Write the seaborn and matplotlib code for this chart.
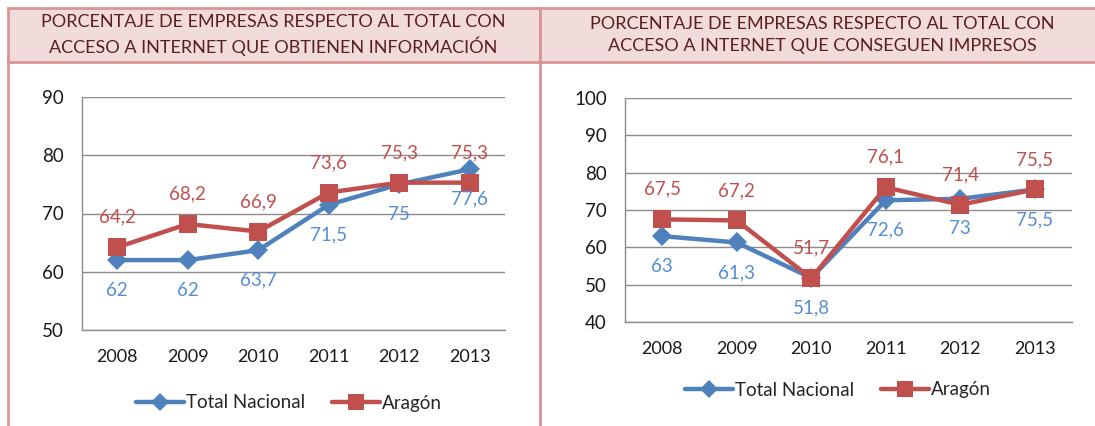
import matplotlib
matplotlib.use("Agg")
import matplotlib.pyplot as plt
import seaborn as sns
import pandas as pd
from matplotlib.patches import Rectangle
from matplotlib.lines import Line2D

years = ["2008", "2009", "2010", "2011", "2012", "2013"]
series_names = ["Total Nacional", "Aragón"]

info_total = [62, 62, 63.7, 71.5, 75, 77.6]
info_aragon = [64.2, 68.2, 66.9, 73.6, 75.3, 75.3]

impr_total = [63, 61.3, 51.8, 72.6, 73, 75.5]
impr_aragon = [67.5, 67.2, 51.7, 76.1, 71.4, 75.5]

title_left = "PORCENTAJE DE EMPRESAS RESPECTO AL TOTAL CON\nACCESO A INTERNET QUE OBTIENEN INFORMACIÓN"
title_right = "PORCENTAJE DE EMPRESAS RESPECTO AL TOTAL CON\nACCESO A INTERNET QUE CONSEGUEN IMPRESOS"

sns.set_theme(style="white")
plt.rcParams["font.family"] = ["Lato", "DejaVu Sans"]

W, H = 1095, 426
fig = plt.figure(figsize=(W / 100, H / 100), dpi=100)
fig.patch.set_facecolor("white")

BLUE = "#4F81BD"
RED = "#C0504D"
BLUE_TXT = "#558ED5"
RED_TXT = "#C0504D"
GRID = "#8C8C8C"
BORDER = "#D99694"
HEAD_FILL = "#F2DCDB"
HEAD_TXT = "#5A1F1E"


def fx(x):
    return x / W


def fy(y):
    return 1 - y / H


def rect_axes(x0, y0, x1, y1):
    return fig.add_axes([fx(x0), fy(y1), (x1 - x0) / W, (y1 - y0) / H])


def panel(x0, x1, text_cx, title):
    fig.patches.append(Rectangle((fx(x0), fy(62)), (x1 - x0) / W, (62 - 8) / H,
                                 transform=fig.transFigure, facecolor=HEAD_FILL,
                                 edgecolor=BORDER, linewidth=2, zorder=0))
    fig.lines.append(Line2D([fx(x0), fx(x0)], [fy(62), fy(430)], transform=fig.transFigure,
                            color=BORDER, linewidth=2))
    fig.text(fx(text_cx), fy(35), title, ha="center", va="center", color=HEAD_TXT,
             fontsize=13, linespacing=1.4)


panel(8, 540, 273, title_left)
panel(540, 1104, 822, title_right)


def draw(ax, total, aragon, ylim, yticks, legend_xy):
    df = pd.DataFrame({
        "year": years * 2,
        "value": total + aragon,
        "serie": [series_names[0]] * 6 + [series_names[1]] * 6,
    })
    sns.lineplot(data=df, x="year", y="value", hue="serie", style="serie",
                 palette={series_names[0]: BLUE, series_names[1]: RED},
                 markers={series_names[0]: "D", series_names[1]: "s"},
                 dashes=False, linewidth=3.2, markersize=11, markeredgewidth=0,
                 ax=ax, legend=False, sort=False)
    for ln in ax.lines:
        if ln.get_marker() == "s":
            ln.set_markersize(12.5)
        else:
            ln.set_markersize(10.5)
    ax.set_xlim(-0.5, 5.5)
    ax.set_ylim(*ylim)
    ax.set_yticks(yticks)
    ax.set_xticks(range(6))
    ax.set_xticklabels(years)
    ax.set_xticks([i - 0.5 for i in range(7)], minor=True)
    ax.tick_params(axis="x", which="major", length=0, pad=14, labelsize=13, labelcolor="#1a1a1a")
    ax.tick_params(axis="x", which="minor", length=6, color=GRID, width=1, direction="out")
    ax.tick_params(axis="y", length=6, color=GRID, width=1, direction="out", pad=7,
                   labelsize=13.5, labelcolor="#1a1a1a")
    ax.set_xlabel("")
    ax.set_ylabel("")
    ax.grid(axis="y", color=GRID, linewidth=1)
    ax.set_axisbelow(True)
    for s in ["top", "right"]:
        ax.spines[s].set_visible(False)
    for s in ["left", "bottom"]:
        ax.spines[s].set_color(GRID)
        ax.spines[s].set_linewidth(1)
    ax.set_facecolor("none")
    for i, v in enumerate(total):
        ax.annotate(f"{v:g}".replace(".", ","), (i, v), xytext=(0, -30),
                    textcoords="offset pixels", ha="center", va="center",
                    color=BLUE_TXT, fontsize=13.5)
    for i, v in enumerate(aragon):
        ax.annotate(f"{v:g}".replace(".", ","), (i, v), xytext=(0, 30),
                    textcoords="offset pixels", ha="center", va="center",
                    color=RED_TXT, fontsize=13.5)
    handles = [
        Line2D([], [], color=BLUE, marker="D", markersize=9, linewidth=3.2, markeredgewidth=0),
        Line2D([], [], color=RED, marker="s", markersize=11, linewidth=3.2, markeredgewidth=0),
    ]
    fig.legend(handles, series_names, loc="center", bbox_to_anchor=(fx(legend_xy[0]), fy(legend_xy[1])),
               ncol=2, frameon=False, fontsize=13.5, handlelength=2.6, columnspacing=1.4,
               handletextpad=0.1, borderpad=0)


axL = rect_axes(82, 97, 505, 330)
draw(axL, info_total, info_aragon, (50, 90), [50, 60, 70, 80, 90], (289, 403))

axR = rect_axes(625, 98, 1072, 322)
draw(axR, impr_total, impr_aragon, (40, 100), [40, 50, 60, 70, 80, 90, 100], (838, 390))

fig.savefig("out.png", dpi=100)
